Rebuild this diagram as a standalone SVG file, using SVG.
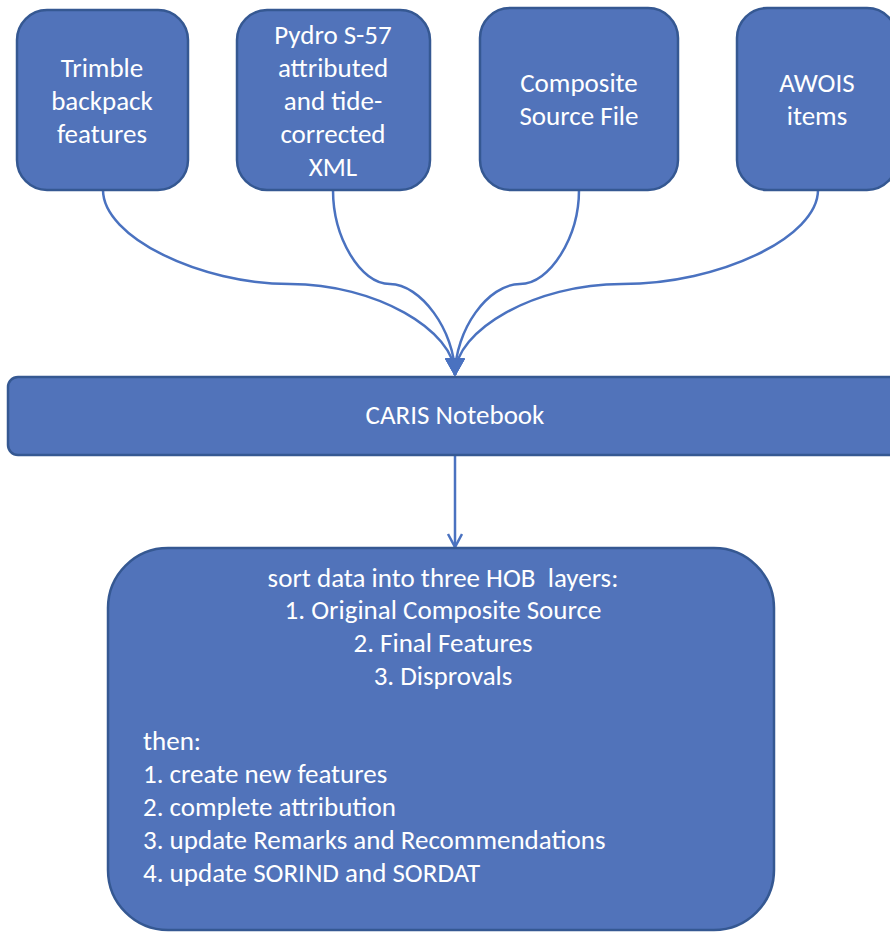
<svg xmlns="http://www.w3.org/2000/svg" width="890" height="932" viewBox="0 0 890 932">
<style>
.box{fill:#5173BA;stroke:#355892;stroke-width:2.5}
.t{font-family:Carlito,Lato,"Open Sans",sans-serif;font-size:27px;fill:#FFFFFF;text-anchor:middle}
.l{text-anchor:start}
.c{fill:none;stroke:#4A72C0;stroke-width:2.5}
</style>
<defs>
<marker id="af" markerWidth="22" markerHeight="24" refX="17" refY="10" orient="auto" markerUnits="userSpaceOnUse">
<path d="M1,1 L17,10 L1,19 Z" fill="#4A72C0" stroke="#4A72C0" stroke-width="1.5" stroke-linejoin="round"/>
</marker>
<marker id="ao" markerWidth="18" markerHeight="18" refX="14" refY="8" orient="auto" markerUnits="userSpaceOnUse">
<path d="M1,1 L14,8 L1,15" fill="none" stroke="#4A72C0" stroke-width="2.5"/>
</marker>
</defs>
<g id="connectors">
<path class="c" d="M103,190 C103,237 200,284 290,284 C375,284 455,330 455,375" marker-end="url(#af)"/>
<path class="c" d="M333,190 C333,237 360,284 390,284 C420,284 455,330 455,375" marker-end="url(#af)"/>
<path class="c" d="M579,190 C579,237 550,284 520,284 C488,284 455,330 455,375" marker-end="url(#af)"/>
<path class="c" d="M818,190 C818,237 720,284 622,284 C535,284 455,330 455,375" marker-end="url(#af)"/>
<path class="c" d="M455,455 L455,547" marker-end="url(#ao)"/>
</g>
<g id="trimble">
<rect class="box" x="17" y="10" width="171" height="180" rx="30"/>
<text class="t" x="102" y="77">Trimble</text>
<text class="t" x="102" y="110">backpack</text>
<text class="t" x="102" y="143">features</text>
</g>
<g id="pydro">
<rect class="box" x="237" y="10" width="193" height="180" rx="30"/>
<text class="t" x="333" y="44">Pydro S-57</text>
<text class="t" x="333" y="77">attributed</text>
<text class="t" x="333" y="110">and tide-</text>
<text class="t" x="333" y="143">corrected</text>
<text class="t" x="333" y="176">XML</text>
</g>
<g id="composite">
<rect class="box" x="480" y="8" width="198" height="182" rx="30"/>
<text class="t" x="579" y="92">Composite</text>
<text class="t" x="579" y="125">Source File</text>
</g>
<g id="awois">
<rect class="box" x="737" y="8" width="160" height="182" rx="30"/>
<text class="t" x="817" y="92">AWOIS</text>
<text class="t" x="817" y="125">items</text>
</g>
<g id="caris">
<rect class="box" x="8" y="377" width="895" height="78" rx="10"/>
<text class="t" x="455" y="424">CARIS Notebook</text>
</g>
<g id="sort">
<rect class="box" x="108" y="548" width="666" height="382" rx="60"/>
<text class="t" x="443" y="587" xml:space="preserve">sort data into three HOB  layers:</text>
<text class="t" x="443" y="619">1. Original Composite Source</text>
<text class="t" x="443" y="652">2. Final Features</text>
<text class="t" x="443" y="685">3. Disprovals</text>
<text class="t l" x="143" y="750">then:</text>
<text class="t l" x="143" y="783">1. create new features</text>
<text class="t l" x="143" y="816">2. complete attribution</text>
<text class="t l" x="143" y="849">3. update Remarks and Recommendations</text>
<text class="t l" x="143" y="882">4. update SORIND and SORDAT</text>
</g>
</svg>
